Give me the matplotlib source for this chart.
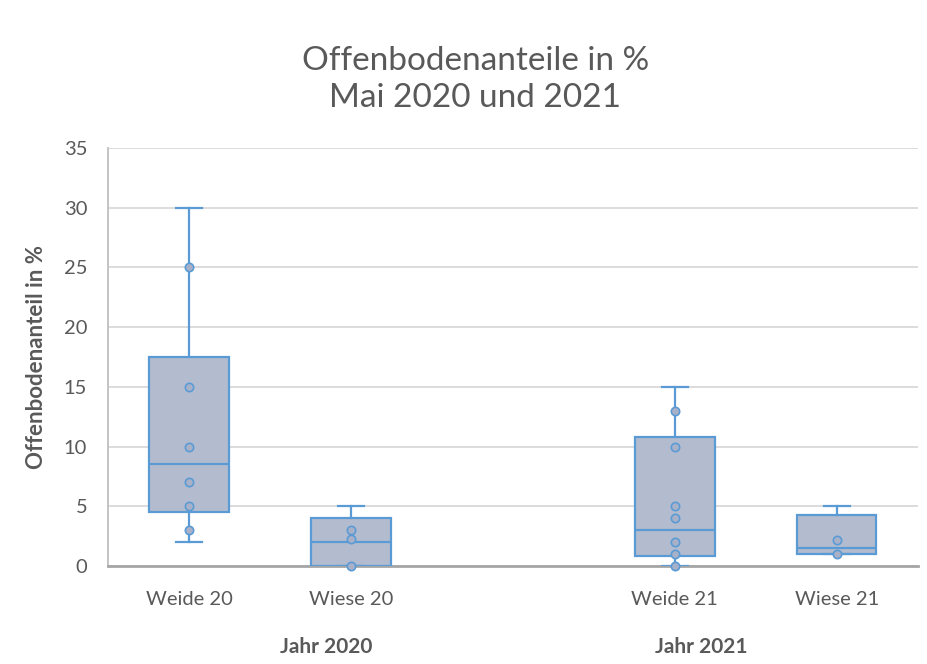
# offenboden_boxplot.py — Offenbodenanteile box plots, Mai 2020 und 2021
# Saves: out.png

import matplotlib.pyplot as plt
import numpy as np

plt.rcParams["font.family"] = ["Lato", "DejaVu Sans"]

# categories and their slot on the category axis (slot 2 stays empty)
labels = ["Weide 20", "Wiese 20", "Weide 21", "Wiese 21"]
slots = [0, 1, 3, 4]
groups = ["Jahr 2020", "Jahr 2021"]

# box statistics
whis_lo = [2, 0, 0, 1]
q1 = [4.5, 0, 0.8, 1.0]
med = [8.5, 2, 3, 1.5]
q3 = [17.5, 4, 10.8, 4.3]
whis_hi = [30, 5, 15, 5]

# single points drawn inside each box
points = [
    [25, 15, 10, 7, 5, 3],
    [3, 2.3, 0],
    [13, 10, 5, 4, 2, 1, 0],
    [2.2, 1],
]

EDGE = "#5b9bd5"
FILL = "#b3bccf"
GRID = "#d9d9d9"
TXT = "#595959"

fig = plt.figure(figsize=(9.28, 6.64), dpi=100)
ax = fig.add_axes([0.1164, 0.1476, 0.8726, 0.6295])

stats = []
for i, lab in enumerate(labels):
    stats.append(dict(label=lab, whislo=whis_lo[i], q1=q1[i], med=med[i],
                      q3=q3[i], whishi=whis_hi[i], fliers=[]))

ax.bxp(stats, positions=slots, widths=0.49, patch_artist=True,
       showfliers=False, capwidths=0.16,
       boxprops=dict(facecolor=FILL, edgecolor=EDGE, linewidth=1.6),
       medianprops=dict(color=EDGE, linewidth=1.6),
       whiskerprops=dict(color=EDGE, linewidth=1.6),
       capprops=dict(color=EDGE, linewidth=1.6),
       zorder=3)

for pos, vals in zip(slots, points):
    ax.plot([pos] * len(vals), vals, "o", ms=6, mfc="#a9b1c8", mec=EDGE,
            mew=1.2, ls="none", zorder=4, clip_on=False)

ax.set_xlim(-0.5, 4.5)
ax.set_ylim(0, 35)
ax.set_yticks(np.arange(0, 36, 5))
ax.set_xticks(slots)
ax.set_xticklabels(labels)
ax.grid(axis="y", color=GRID, linewidth=1.3, zorder=0)
ax.set_axisbelow(True)

for s in ["top", "right"]:
    ax.spines[s].set_visible(False)
ax.spines["left"].set_color("#bfbfbf")
ax.spines["left"].set_linewidth(1.3)
ax.spines["bottom"].set_color("#a6a6a6")
ax.spines["bottom"].set_linewidth(2)
ax.tick_params(axis="both", length=0, labelsize=14.5, colors=TXT)
ax.tick_params(axis="x", pad=18)
ax.tick_params(axis="y", pad=15)

ax.set_ylabel("Offenbodenanteil in %", fontsize=16, fontweight="bold",
              color=TXT, labelpad=12)

# group labels under the categories
ax.text(0.270, -0.193, groups[0], transform=ax.transAxes, ha="center",
        va="center", fontsize=15, fontweight="bold", color=TXT)
ax.text(0.733, -0.193, groups[1], transform=ax.transAxes, ha="center",
        va="center", fontsize=15, fontweight="bold", color=TXT)

fig.text(0.512, 0.880, "Offenbodenanteile in %\nMai 2020 und 2021",
         ha="center", va="center", fontsize=24, color=TXT, linespacing=1.3)

fig.savefig("out.png", dpi=100)
